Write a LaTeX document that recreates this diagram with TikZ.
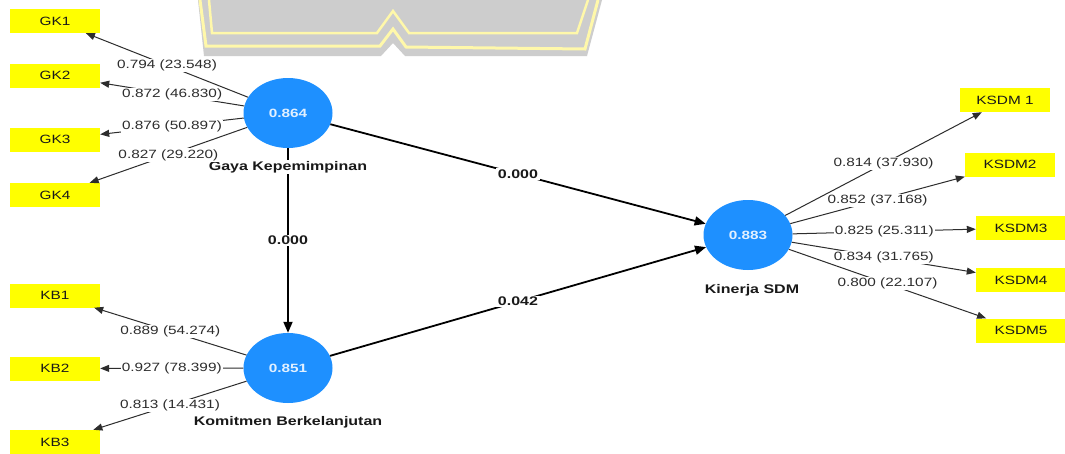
\documentclass[tikz,border=0pt]{standalone}
\usepackage{fontspec}
\setmainfont{Liberation Sans}[FakeStretch=1.28]
\usetikzlibrary{shapes.geometric,arrows.meta}
\definecolor{lvblue}{RGB}{30,144,255}
\definecolor{lvtext}{RGB}{225,240,255}
\definecolor{indyellow}{RGB}{255,255,0}
\definecolor{lblgray}{RGB}{45,45,45}
\definecolor{wmgray}{RGB}{205,205,205}
\definecolor{wmyellow}{RGB}{255,248,170}
\tikzset{
  latent/.style={ellipse, fill=lvblue, draw=none, minimum width=89pt, minimum height=70pt, inner sep=0pt,
    text=lvtext, font=\fontsize{12}{14}\selectfont\bfseries},
  indicator/.style={rectangle, fill=indyellow, draw=none, minimum width=90pt, minimum height=24pt, inner sep=0pt,
    font=\fontsize{12}{14}\selectfont, text=black!90},
  latname/.style={fill=white, inner sep=1pt, font=\fontsize{12.5}{14}\selectfont\bfseries, text=black!90},
  loadline/.style={draw=lblgray, line width=1pt, -{Triangle[length=9pt,width=7pt]}},
  pathline/.style={draw=black, line width=1.8pt, -{Triangle[length=11pt,width=9pt]}},
  loadlbl/.style={fill=white, inner sep=1pt, font=\fontsize{12}{14}\selectfont, text=lblgray},
  pathlbl/.style={fill=white, inner sep=1.5pt, font=\fontsize{12.5}{14}\selectfont\bfseries, text=black!90},
}
\begin{document}
\begin{tikzpicture}[x=1pt, y=-1pt]
\useasboundingbox (0,0) rectangle (1065,453);
\fill[white] (0,0) rectangle (1065,453);
% watermark
\fill[wmgray] (198,0) -- (204,56) -- (381,56) -- (393,43) -- (405,56) -- (587,56) -- (602,0) -- cycle;
\draw[wmyellow, line width=3pt, line join=miter] (200,0) -- (206,46) -- (380,46) -- (393,29) -- (406,47) -- (585,49) -- (598,0);
\draw[wmyellow, line width=2.5pt, line join=miter] (209,0) -- (212,33) -- (377,33) -- (393,11) -- (409,33) -- (577,33) -- (588,0);
% latent variables
\node[latent] (gk) at (288,113) {0.864};
\node[latent] (kb) at (288,368) {0.851};
\node[latent] (ks) at (748,235) {0.883};
% indicators
\node[indicator] (gk1) at (55,21) {GK1};
\node[indicator] (gk2) at (55,75.5) {GK2};
\node[indicator] (gk3) at (55,139.5) {GK3};
\node[indicator] (gk4) at (55,195) {GK4};
\node[indicator] (kb1) at (55,295.5) {KB1};
\node[indicator] (kb2) at (55,368.5) {KB2};
\node[indicator] (kb3) at (55,442) {KB3};
\node[indicator] (ks1) at (1005,100) {KSDM 1};
\node[indicator] (ks2) at (1010,164.5) {KSDM2};
\node[indicator] (ks3) at (1021,228) {KSDM3};
\node[indicator] (ks4) at (1021,280) {KSDM4};
\node[indicator] (ks5) at (1021,330.5) {KSDM5};
% structural paths
\draw[pathline] (gk) -- (kb) node[pathlbl, pos=0.5] {0.000};
\draw[pathline] (gk) -- (ks) node[pathlbl, pos=0.5] {0.000};
\draw[pathline] (kb) -- (ks) node[pathlbl, pos=0.5] {0.042};
% names
\node[latname] (gkname) at (288,167) {Gaya Kepemimpinan};
\node[latname] (kbname) at (288,422) {Komitmen Berkelanjutan};
\node[latname] (ksname) at (752,290) {Kinerja SDM};
% loadings
\draw[loadline] (gk) -- (gk1) node[loadlbl, pos=0.5] {0.794 (23.548)};
\draw[loadline] (gk) -- (gk2) node[loadlbl, pos=0.5] {0.872 (46.830)};
\draw[loadline] (gk) -- (gk3) node[loadlbl, pos=0.5] {0.876 (50.897)};
\draw[loadline] (gk) -- (gk4) node[loadlbl, pos=0.5] {0.827 (29.220)};
\draw[loadline] (kb) -- (kb1) node[loadlbl, pos=0.5] {0.889 (54.274)};
\draw[loadline] (kb) -- (kb2) node[loadlbl, pos=0.5] {0.927 (78.399)};
\draw[loadline] (kb) -- (kb3) node[loadlbl, pos=0.5] {0.813 (14.431)};
\draw[loadline] (ks) -- (ks1) node[loadlbl, pos=0.5] {0.814 (37.930)};
\draw[loadline] (ks) -- (ks2) node[loadlbl, pos=0.5] {0.852 (37.168)};
\draw[loadline] (ks) -- (ks3) node[loadlbl, pos=0.5] {0.825 (25.311)};
\draw[loadline] (ks) -- (ks4) node[loadlbl, pos=0.5] {0.834 (31.765)};
\draw[loadline] (ks) -- (ks5) node[loadlbl, pos=0.5] {0.800 (22.107)};
\end{tikzpicture}
\end{document}
